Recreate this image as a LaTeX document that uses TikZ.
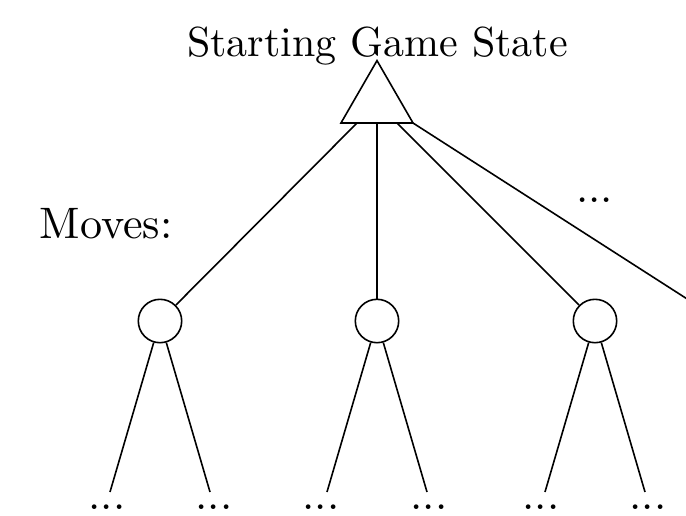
\documentclass[tikz,border=0pt]{standalone}
\usetikzlibrary{shapes.geometric}
\begin{document}
\begin{tikzpicture}[x=1pt,y=-1pt,
  ln/.style={line width=1.6pt},
  lbl/.style={inner sep=0pt,scale=4.2},
  dotlbl/.style={inner sep=0pt,scale=4.4},
  movenode/.style={circle,draw,line width=1.6pt,minimum size=43.4pt,inner sep=0pt},
  statenode/.style={regular polygon,regular polygon sides=3,draw,line width=1.6pt,minimum size=83.2pt,inner sep=0pt}]
\useasboundingbox (0,0) rectangle (686,515);
\clip (0,0) rectangle (686,515);
% title and labels
\node[lbl,anchor=base] (title) at (377.5,56) {Starting Game State};
\node[lbl,scale=1.05,anchor=base west] (moves) at (39,238) {Moves:};
% root
\node[statenode] (root) at (377,102.2) {};
\coordinate (b1) at (357,123);
\coordinate (b2) at (377,123);
\coordinate (b3) at (397,123);
\coordinate (b4) at (413,123);
% children
\node[movenode] (c1) at (160,321) {};
\node[movenode] (c2) at (377,321) {};
\node[movenode] (c3) at (595,321) {};
\coordinate (c4) at (695,304);
\node[dotlbl,anchor=base] (topdots) at (594.5,202.5) {...};
% edges from root
\draw[ln] (b1) -- (c1);
\draw[ln] (b2) -- (c2);
\draw[ln] (b3) -- (c3);
\draw[ln] (b4) -- (c4);
% leaf ends
\coordinate (e11) at (110,492);
\coordinate (e12) at (210,492);
\coordinate (e21) at (327,492);
\coordinate (e22) at (427,492);
\coordinate (e31) at (545,492);
\coordinate (e32) at (645,492);
\draw[ln] (c1) -- (e11);
\draw[ln] (c1) -- (e12);
\draw[ln] (c2) -- (e21);
\draw[ln] (c2) -- (e22);
\draw[ln] (c3) -- (e31);
\draw[ln] (c3) -- (e32);
% leaf dots
\node[dotlbl,anchor=base] (d11) at (107,509) {...};
\node[dotlbl,anchor=base] (d12) at (214,509) {...};
\node[dotlbl,anchor=base] (d21) at (321,509) {...};
\node[dotlbl,anchor=base] (d22) at (429,509) {...};
\node[dotlbl,anchor=base] (d31) at (541,509) {...};
\node[dotlbl,anchor=base] (d32) at (648,509) {...};
\end{tikzpicture}
\end{document}
